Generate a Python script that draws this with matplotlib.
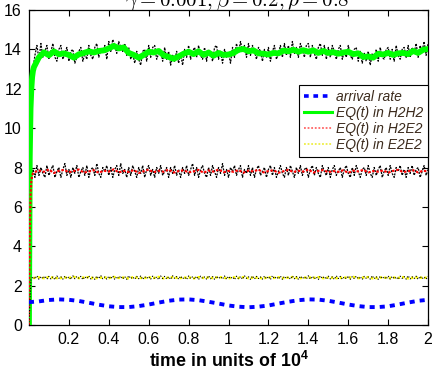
import numpy as np
import matplotlib
matplotlib.use("Agg")
import matplotlib.pyplot as plt
from matplotlib.lines import Line2D

plt.rcParams['font.family'] = ['Liberation Sans', 'DejaVu Sans']
plt.rcParams['mathtext.fontset'] = 'custom'
plt.rcParams['mathtext.rm'] = 'Liberation Sans'
plt.rcParams['mathtext.bf'] = 'Liberation Sans:bold'
plt.rcParams['mathtext.it'] = 'Liberation Sans:italic'

# ---------------- data (time in units of 10^4) ----------------
arrival_t = [0.00, 0.05, 0.10, 0.15, 0.20, 0.25, 0.30, 0.35, 0.40, 0.45,
             0.50, 0.55, 0.60, 0.65, 0.70, 0.75, 0.80, 0.85, 0.90, 0.95,
             1.00, 1.05, 1.10, 1.15, 1.20, 1.25, 1.30, 1.35, 1.40, 1.45,
             1.50, 1.55, 1.60, 1.65, 1.70, 1.75, 1.80, 1.85, 1.90, 1.95, 2.00]
arrival_rate = [1.16, 1.20, 1.27, 1.30, 1.28, 1.22, 1.13, 1.03, 0.95, 0.91,
                0.91, 0.96, 1.04, 1.14, 1.23, 1.29, 1.30, 1.26, 1.18, 1.09,
                0.99, 0.93, 0.90, 0.93, 0.99, 1.09, 1.18, 1.26, 1.30, 1.29,
                1.23, 1.14, 1.04, 0.96, 0.91, 0.91, 0.95, 1.04, 1.14, 1.23, 1.28]

# time points for the model curves
model_t_start = [0.0, 0.004, 0.008, 0.012, 0.016, 0.02]
model_t_step = 0.025

eq_H2H2 = [0.0, 8.5, 11.0, 12.0, 12.6, 12.9,
           13.1, 13.6, 13.85, 13.7, 13.9, 13.75, 13.8, 13.72, 13.58, 13.75,
           13.82, 13.9, 13.84, 13.92, 13.95, 14.05, 14.18, 14.05, 14.1, 13.82,
           13.72, 13.58, 13.72, 13.88, 13.84, 13.92, 13.7, 13.62, 13.52, 13.64,
           13.78, 13.88, 13.76, 13.9, 13.72, 13.84, 13.68, 13.82, 13.72, 13.74,
           13.82, 13.98, 14.02, 13.9, 13.95, 13.8, 13.78, 13.74, 13.82, 13.8,
           13.94, 13.9, 13.98, 13.88, 13.96, 13.88, 13.95, 13.82, 13.92, 13.82,
           13.86, 13.78, 13.84, 13.88, 13.76, 13.8, 13.62, 13.64, 13.58, 13.78,
           13.74, 13.82, 13.72, 13.8, 13.82, 13.76, 13.92, 13.82, 13.98, 14.02]

eq_H2E2 = [0.0, 4.5, 6.6, 7.3, 7.6, 7.7,
           7.75, 7.85, 7.78, 7.9, 7.72, 7.83, 7.88, 7.76, 7.82, 7.9,
           7.74, 7.8, 7.86, 7.73, 7.84, 7.79, 7.91, 7.75, 7.83, 7.77,
           7.87, 7.72, 7.81, 7.89, 7.76, 7.84, 7.78, 7.9, 7.74, 7.82,
           7.86, 7.75, 7.8, 7.88, 7.73, 7.85, 7.79, 7.9, 7.76, 7.83,
           7.78, 7.87, 7.74, 7.84, 7.8, 7.89, 7.75, 7.82, 7.86, 7.73,
           7.81, 7.88, 7.77, 7.84, 7.79, 7.9, 7.74, 7.83, 7.87, 7.76,
           7.82, 7.78, 7.86, 7.73, 7.84, 7.8, 7.88, 7.75, 7.82, 7.79,
           7.85, 7.74, 7.83, 7.88, 7.77, 7.81, 7.86, 7.75, 7.84, 7.8]

eq_E2E2 = [0.0, 2.2, 2.35, 2.4, 2.41, 2.4,
           2.39, 2.42, 2.38, 2.43, 2.4, 2.37, 2.42, 2.39, 2.44, 2.38,
           2.41, 2.43, 2.37, 2.4, 2.42, 2.38, 2.44, 2.39, 2.41, 2.37,
           2.43, 2.4, 2.38, 2.42, 2.39, 2.44, 2.37, 2.41, 2.43, 2.38,
           2.4, 2.42, 2.37, 2.43, 2.39, 2.41, 2.38, 2.44, 2.4, 2.37,
           2.42, 2.39, 2.43, 2.38, 2.41, 2.4, 2.37, 2.43, 2.39, 2.42,
           2.38, 2.41, 2.44, 2.37, 2.4, 2.42, 2.39, 2.43, 2.38, 2.41,
           2.4, 2.37, 2.42, 2.39, 2.44, 2.38, 2.41, 2.43, 2.37, 2.4,
           2.42, 2.38, 2.41, 2.39, 2.43, 2.37, 2.4, 2.42, 2.39, 2.41]

# simulation traces (step 0.01)
sim_step = 0.01
sim_H2H2 = [0.0, 11.3, 13.0, 13.7, 14.2, 13.5, 14.3, 13.6, 13.9, 14.2,
            13.5, 13.9, 14.3, 13.6, 13.4, 14.0, 14.2, 13.5, 13.8, 14.1,
            13.4, 13.9, 14.0, 13.3, 13.6, 13.9, 14.1, 13.4, 13.8, 13.5,
            14.2, 13.7, 13.5, 14.1, 14.3, 13.6, 14.0, 13.8, 14.2, 13.5,
            14.4, 13.9, 14.5, 14.2, 13.8, 14.4, 14.1, 13.9, 14.3, 13.7,
            14.1, 13.5, 13.8, 13.3, 13.9, 13.5, 13.2, 13.9, 14.0, 13.4,
            14.2, 13.6, 14.1, 14.2, 13.5, 13.8, 14.0, 13.4, 14.1, 13.5,
            13.9, 13.2, 13.7, 13.4, 13.9, 13.3, 13.8, 13.2, 14.0, 13.6,
            14.2, 13.5, 13.9, 14.1, 13.6, 14.2, 13.7, 13.5, 14.1, 13.4,
            14.0, 13.8, 13.4, 14.1, 14.2, 13.5, 13.9, 13.3, 14.0, 13.6,
            13.8, 13.3, 14.1, 13.6, 14.3, 13.8, 14.4, 13.9, 14.2, 13.6,
            14.3, 13.7, 14.2, 13.9, 13.5, 14.1, 13.9, 13.4, 14.0, 13.6,
            14.1, 13.4, 13.9, 14.2, 13.5, 13.8, 14.2, 13.6, 14.3, 13.7,
            14.2, 13.6, 14.4, 13.8, 14.1, 13.6, 14.3, 14.0, 13.6, 14.2,
            14.3, 13.6, 14.2, 13.8, 13.5, 14.1, 14.3, 13.7, 14.2, 13.5,
            14.1, 13.6, 14.2, 13.9, 13.5, 14.0, 14.2, 13.5, 13.9, 13.6,
            14.2, 13.7, 13.5, 14.0, 14.1, 13.4, 13.9, 13.3, 13.8, 13.4,
            13.9, 13.2, 13.8, 13.5, 14.0, 13.4, 14.1, 13.6, 13.5, 14.0,
            14.1, 13.5, 14.0, 13.4, 14.2, 13.7, 13.5, 14.0, 14.1, 13.6,
            14.2, 13.6, 14.1, 13.8, 14.3, 13.6, 14.2, 13.9, 14.4, 13.7,
            14.3]

sim_H2E2 = [0.0, 7.2, 7.9, 7.5, 8.1, 7.6, 8.0, 7.7, 7.5, 8.1,
            7.6, 7.9, 8.1, 7.5, 7.8, 8.0, 7.5, 7.9, 8.2, 7.6,
            7.9, 7.5, 8.0, 7.7, 8.1, 7.5, 7.8, 8.0, 7.6, 8.1,
            7.5, 7.9, 8.0, 7.6, 8.2, 7.7, 7.5, 8.0, 7.8, 8.1,
            7.6, 8.0, 7.5, 7.9, 8.1, 7.6, 8.2, 7.7, 7.9, 7.5,
            8.0, 7.6, 8.1, 7.8, 7.5, 8.0, 7.7, 8.1, 7.5, 7.9,
            8.1, 7.6, 7.9, 7.5, 8.0, 7.7, 8.1, 7.6, 7.8, 8.0,
            7.5, 8.0, 7.7, 8.1, 7.6, 7.9, 7.5, 8.0, 7.7, 8.1,
            7.6, 7.9, 8.2, 7.6, 8.0, 7.5, 7.9, 8.1, 7.7, 7.5,
            8.0, 7.6, 8.1, 7.8, 7.5, 8.0, 7.7, 8.2, 7.6, 7.9,
            7.5, 8.0, 7.8, 8.1, 7.6, 7.9, 8.1, 7.5, 7.9, 7.7,
            8.1, 7.6, 8.0, 7.5, 7.9, 8.1, 7.6, 7.8, 8.0, 7.5,
            7.9, 8.1, 7.6, 8.0, 7.5, 7.8, 8.1, 7.7, 7.5, 8.0,
            7.6, 8.1, 7.8, 7.5, 8.0, 7.7, 8.1, 7.6, 7.9, 8.0,
            7.5, 7.9, 8.1, 7.6, 8.0, 7.7, 7.5, 8.1, 7.8, 7.6,
            8.0, 7.5, 7.9, 8.1, 7.6, 7.8, 8.0, 7.5, 7.9, 8.1,
            7.7, 7.5, 8.0, 7.6, 8.1, 7.8, 7.5, 7.9, 8.0, 7.6,
            8.1, 7.7, 7.5, 8.0, 7.6, 7.9, 8.1, 7.5, 7.8, 8.0,
            7.6, 8.1, 7.7, 7.5, 8.0, 7.8, 8.1, 7.6, 7.9, 7.5,
            8.0, 7.7, 8.1, 7.6, 7.9, 8.0, 7.5, 7.8, 8.1, 7.6,
            7.9]

sim_E2E2 = [0.0, 2.30, 2.45, 2.35, 2.50, 2.32, 2.46, 2.36, 2.48, 2.33,
            2.47, 2.34, 2.44, 2.31, 2.49, 2.37, 2.45, 2.33, 2.48, 2.36,
            2.44, 2.32, 2.50, 2.35, 2.46, 2.38, 2.47, 2.31, 2.45, 2.36,
            2.49, 2.34, 2.43, 2.32, 2.48, 2.36, 2.51, 2.35, 2.44, 2.33,
            2.47, 2.35, 2.49, 2.31, 2.45, 2.37, 2.48, 2.34, 2.46, 2.32,
            2.50, 2.36, 2.44, 2.33, 2.47, 2.35, 2.49, 2.32, 2.45, 2.37,
            2.46, 2.33, 2.48, 2.35, 2.44, 2.31, 2.49, 2.36, 2.47, 2.34,
            2.45, 2.32, 2.50, 2.37, 2.46, 2.33, 2.48, 2.35, 2.43, 2.32,
            2.49, 2.36, 2.45, 2.34, 2.47, 2.31, 2.48, 2.37, 2.44, 2.33,
            2.50, 2.35, 2.46, 2.32, 2.48, 2.36, 2.45, 2.34, 2.49, 2.33,
            2.47, 2.36, 2.44, 2.31, 2.48, 2.35, 2.46, 2.33, 2.50, 2.37,
            2.45, 2.32, 2.49, 2.34, 2.47, 2.36, 2.44, 2.33, 2.48, 2.35,
            2.46, 2.31, 2.50, 2.36, 2.45, 2.34, 2.48, 2.32, 2.47, 2.37,
            2.44, 2.33, 2.49, 2.35, 2.46, 2.32, 2.48, 2.36, 2.45, 2.34,
            2.50, 2.33, 2.47, 2.35, 2.44, 2.31, 2.49, 2.37, 2.46, 2.33,
            2.48, 2.34, 2.45, 2.32, 2.50, 2.36, 2.47, 2.33, 2.44, 2.35,
            2.49, 2.32, 2.46, 2.36, 2.48, 2.34, 2.45, 2.31, 2.47, 2.37,
            2.44, 2.33, 2.50, 2.35, 2.46, 2.32, 2.48, 2.36, 2.45, 2.34,
            2.49, 2.33, 2.47, 2.35, 2.44, 2.32, 2.48, 2.37, 2.46, 2.33,
            2.50, 2.34, 2.45, 2.36, 2.48, 2.32, 2.47, 2.35, 2.44, 2.33,
            2.47]

xticks = [0.2, 0.4, 0.6, 0.8, 1.0, 1.2, 1.4, 1.6, 1.8, 2.0]
xticklabels = ['0.2', '0.4', '0.6', '0.8', '1', '1.2', '1.4', '1.6', '1.8', '2']
yticks = [0, 2, 4, 6, 8, 10, 12, 14, 16]
legend_labels = ['arrival rate', 'EQ(t) in H2H2', 'EQ(t) in H2E2', 'EQ(t) in E2E2']
title_text = r'$\gamma = 0.001, \beta = 0.2, \rho = 0.8$'

# ---------------- figure ----------------
fig = plt.figure(figsize=(4.32, 3.71), dpi=100)
ax = fig.add_axes([0.067, 0.124, 0.924, 0.849])

model_t = np.concatenate([model_t_start,
                          np.arange(1, len(eq_H2H2) - len(model_t_start) + 1) * model_t_step])
sim_t = np.arange(len(sim_H2H2)) * sim_step

sim_style = dict(color='black', lw=0.9, ls=(0, (1.6, 1.0)), zorder=2)
ax.plot(sim_t, sim_H2H2, **sim_style)
ax.plot(model_t, eq_H2H2, color='#00ff00', lw=4.2, solid_joinstyle='round', zorder=3)

ax.plot(sim_t, sim_H2E2, **sim_style)
ax.plot(model_t, eq_H2E2, color='#ff0000', lw=1.5, ls=(0, (1.2, 0.8)), zorder=3)

ax.plot(model_t, eq_E2E2, color='#ffff00', lw=1.8, ls=(0, (1, 0.8)), zorder=2)
ax.plot(sim_t, sim_E2E2, color='black', lw=0.8, ls=(0, (1, 1.5)), zorder=3)

ax.plot(arrival_t, arrival_rate, color='#0000ff', lw=2.8, ls=(0, (1.3, 1.3)), zorder=4)

ax.set_xlim(0, 2)
ax.set_ylim(0, 16)
ax.set_xticks(xticks)
ax.set_xticklabels(xticklabels)
ax.set_yticks(yticks)
ax.tick_params(direction='in', length=4, width=0.8, top=True, right=True,
               labelsize=11.5, pad=5)
for s in ax.spines.values():
    s.set_linewidth(0.9)

ax.set_xlabel(r'time in units of 10$^{\mathbf{4}}$', fontsize=12.8,
              fontweight='bold', labelpad=3)

fig.text(0.55, 0.984, title_text, ha='center', va='baseline', fontsize=15,
         math_fontfamily='cm')

handles = [
    Line2D([], [], color='#0000ff', lw=2.6, ls=(0, (1.3, 1.3))),
    Line2D([], [], color='#00ff00', lw=2.2),
    Line2D([], [], color='#ff6666', lw=1.3, ls=(0, (1, 1))),
    Line2D([], [], color='#eeee44', lw=1.3, ls=(0, (1, 1))),
]
leg = ax.legend(handles, legend_labels, loc='upper right',
                bbox_to_anchor=(1.0, 0.762), fancybox=False, framealpha=1,
                edgecolor='black', handlelength=2.0,
                handletextpad=0.3, borderpad=0.35, labelspacing=0.15,
                borderaxespad=0.0, prop={'style': 'italic', 'size': 10})
leg.get_frame().set_linewidth(0.8)
for t in leg.get_texts():
    t.set_color('#3b2a1c')

fig.savefig('out.png', dpi=100)
